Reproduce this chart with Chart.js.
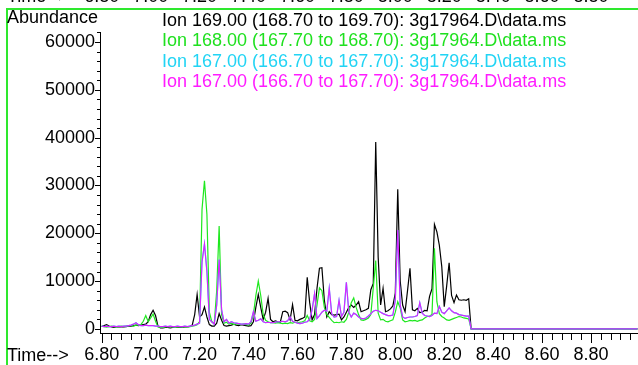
<!DOCTYPE html>
<html>
<head>
<meta charset="utf-8">
<script src="https://cdn.jsdelivr.net/npm/chart.js@4.4.1/dist/chart.umd.min.js"></script>
<style>
  html, body { margin: 0; padding: 0; background: #fff; }
  #wrap { position: relative; width: 638px; height: 365px; overflow: hidden;
          font-family: Arial, "Liberation Sans", sans-serif; font-size: 18px; color: #000; }
  #frame { position: absolute; left: 6px; top: 8px; width: 700px; height: 400px;
           border-left: 2px solid #2ee82e; border-top: 2px solid #2ee82e; }
  #chart { position: absolute; left: 0; top: 0; }
  .lbl { position: absolute; line-height: 20px; white-space: nowrap; }
  .top { position: absolute; top: -14px; line-height: 20px; white-space: nowrap; transform: translateX(-50%); }
  #legend { position: absolute; left: 162px; top: 10px; line-height: 20.3px; white-space: nowrap; }
</style>
</head>
<body>
<div id="wrap">
  <div id="frame"></div>
  <canvas id="chart" width="638" height="365"></canvas>
  <div class="lbl" style="left:7px; top:-14px;">Time--&gt;</div>
  <div class="lbl" style="left:7px; top:7px;">Abundance</div>
  <div class="lbl" style="left:7px; top:345px;">Time--&gt;</div>
  <div id="legend">
    <div style="color:#000">Ion 169.00 (168.70 to 169.70): 3g17964.D\data.ms</div>
    <div style="color:#1fe01f">Ion 168.00 (167.70 to 168.70): 3g17964.D\data.ms</div>
    <div style="color:#22d4f4">Ion 167.00 (166.70 to 167.70): 3g17964.D\data.ms</div>
    <div style="color:#ff1cff">Ion 167.00 (166.70 to 167.70): 3g17964.D\data.ms</div>
  </div>
</div>
<script>
// scan times (min): 6.80 .. 8.30 every 0.01, then end of acquisition
const times = Array.from({length: 151}, (_, i) => +(6.80 + i * 0.01).toFixed(2)).concat([8.31, 8.99]);

const xTicks = [6.8, 7.0, 7.2, 7.4, 7.6, 7.8, 8.0, 8.2, 8.4, 8.6, 8.8];
const yTicks = [0, 10000, 20000, 30000, 40000, 50000, 60000];

// Ion 169.00
const ion169 = [
  500,700,900,600,400,300,400,500,400,400,
  500,600,600,700,800,700,800,900,1000,1500,
  3000,3900,2800,600,200,200,300,300,200,300,
  300,400,300,300,400,400,500,800,3000,7200,
  2500,3000,4600,2500,900,600,600,1200,3200,1800,
  700,600,700,800,1000,800,700,900,800,700,
  600,700,1500,4500,7200,4500,2000,3500,6400,2000,
  1500,1700,1500,1400,3600,3700,3400,1900,5100,1800,
  1700,2000,2200,2500,10800,5500,1900,3000,8500,12700,
  12800,6000,2500,3600,3000,2900,3000,3100,1900,2500,
  3500,4500,5000,4500,5000,5700,3600,3800,4000,4300,
  8200,9500,39100,15000,5000,8500,3600,3800,4200,4800,
  7500,29200,10000,5000,3600,8000,12700,4000,3800,4300,
  3400,3500,3900,3800,6800,8400,21850,20300,17500,13000,
  4660,9000,13850,7000,5500,7100,6100,6000,6100,6000,
  6300,0,0
];

// Ion 168.00
const ion168 = [
  600,500,400,500,600,500,400,500,600,500,
  600,700,700,600,800,800,900,1600,2800,1500,
  2300,3100,1600,400,300,300,400,500,500,400,
  300,400,500,400,500,400,500,600,700,900,
  1500,25000,31000,24000,3500,1500,1200,8000,21500,3000,
  1200,1400,1000,1200,900,1100,1000,900,1000,900,
  800,1200,3000,7000,10000,7000,3000,1800,1500,1300,
  1300,1200,1300,1200,1100,1200,1100,1300,1200,1400,
  1300,1400,1500,1700,2800,1700,1500,2000,5000,8600,
  8000,4500,3000,2400,1800,1300,1400,1300,1500,1400,
  2000,3500,5500,6500,4500,3000,1900,1800,2000,2300,
  3000,8600,14300,3300,1900,2000,1600,1500,1700,1900,
  3500,5700,4400,1900,1500,1600,1800,1700,1800,1600,
  1800,1900,2300,2600,2700,3000,16850,5700,3200,2600,
  2300,1900,1800,2000,2200,2400,2600,2500,2300,2200,
  2100,0,0
];

// Ion 167.00 (both 167 traces lie on top of each other)
const ion167 = [
  600,500,600,500,500,600,500,600,500,600,
  600,700,800,1000,1300,900,700,700,800,700,
  700,700,600,600,500,500,600,500,600,500,
  500,600,500,500,600,500,600,700,800,1000,
  1200,14000,17800,12000,2000,1500,1000,5000,14500,4000,
  1500,2000,1200,1500,1300,1200,1100,1000,1000,1100,
  1000,1500,3600,1600,1800,2100,1500,1300,1400,1300,
  1300,1400,1500,1500,1600,1500,1700,2500,1600,1400,
  1200,1100,1200,1400,1500,2000,4000,7400,2200,2800,
  3500,3900,3700,8500,3200,2500,2600,6000,2600,3500,
  9750,3500,2500,3300,3000,2500,2200,2100,2300,2700,
  3200,3700,3900,3800,3500,3200,3000,2800,2800,2900,
  6000,20700,5000,2500,2200,2400,2500,2500,2600,2800,
  5500,3300,2800,2700,2600,2800,3300,3200,4700,3500,
  3200,3800,4400,3800,3400,3300,3000,2900,2800,2700,
  2700,0,0
];

const pts = arr => times.map((t, i) => ({x: t, y: arr[i]}));
const FONT = {family: 'Arial, "Liberation Sans", sans-serif', size: 18};

// minor and major tick marks on both axes
const axisTicks = {
  id: 'axisTicks',
  afterDraw(chart) {
    const {ctx, chartArea, scales: {x, y}} = chart;
    ctx.save();
    ctx.strokeStyle = '#000';
    ctx.lineWidth = 1;
    ctx.beginPath();
    for (let i = 0; i <= 55; i++) {
      const t = 6.80 + i * 0.04;
      if (t > x.max) break;
      const px = Math.round(x.getPixelForValue(t)) + 0.5;
      ctx.moveTo(px, chartArea.bottom);
      ctx.lineTo(px, chartArea.bottom + (i % 5 === 0 ? 10 : 7));
    }
    for (let v = 0; v <= y.max; v += 2000) {
      const py = Math.round(y.getPixelForValue(v)) + 0.5;
      ctx.moveTo(chartArea.left, py);
      ctx.lineTo(chartArea.left - (v % 10000 === 0 ? 5 : 3), py);
    }
    ctx.stroke();
    ctx.restore();
  }
};

const chart = new Chart(document.getElementById('chart').getContext('2d'), {
  type: 'line',
  data: {
    datasets: [
      {label: 'Ion 167.00 b', data: pts(ion167), borderColor: 'rgba(255,0,255,0.85)', order: 0},
      {label: 'Ion 167.00 a', data: pts(ion167), borderColor: '#00f0ff', order: 1},
      {label: 'Ion 168.00', data: pts(ion168), borderColor: '#1ee81e', order: 2},
      {label: 'Ion 169.00', data: pts(ion169), borderColor: '#000000', order: 3}
    ]
  },
  options: {
    responsive: false,
    animation: false,
    devicePixelRatio: 1,
    parsing: false,
    layout: {padding: {top: 32, left: 0, right: 0, bottom: 0}},
    elements: {
      point: {radius: 0},
      line: {tension: 0, borderWidth: 1.2, fill: false}
    },
    plugins: {legend: {display: false}, tooltip: {enabled: false}},
    scales: {
      x: {
        type: 'linear',
        min: 6.793,
        max: 8.992,
        afterBuildTicks: s => { s.ticks = xTicks.map(v => ({value: v})); },
        afterFit: s => { s.height = 32; },
        grid: {display: false, drawTicks: false},
        border: {display: true, color: '#000', width: 1},
        ticks: {color: '#000', font: FONT, padding: 11, maxRotation: 0, autoSkip: false,
                callback: v => v.toFixed(2)}
      },
      y: {
        type: 'linear',
        min: -850,
        max: 62100,
        afterBuildTicks: s => { s.ticks = yTicks.map(v => ({value: v})); },
        afterFit: s => { s.width = 100; },
        grid: {display: false, drawTicks: false},
        border: {display: true, color: '#000', width: 1},
        ticks: {color: '#000', font: FONT, padding: 5, callback: v => String(v)}
      }
    }
  },
  plugins: [axisTicks]
});

// clipped axis labels of the panel above
const wrap = document.getElementById('wrap');
xTicks.forEach(v => {
  const d = document.createElement('div');
  d.className = 'top';
  d.style.left = chart.scales.x.getPixelForValue(v) + 'px';
  d.textContent = v.toFixed(2);
  wrap.appendChild(d);
});
</script>
</body>
</html>
